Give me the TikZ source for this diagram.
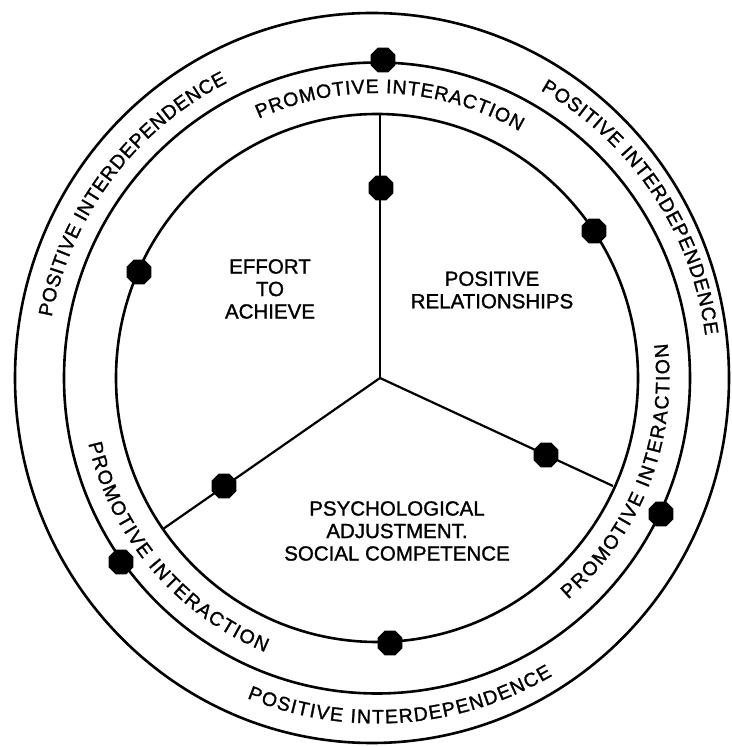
\documentclass[tikz,border=0pt]{standalone}
\usepackage{fontspec}
\setmainfont[FakeBold=1.3]{Liberation Sans}
\newfontfamily\arcfont[FakeBold=1.3]{Liberation Sans}
\usetikzlibrary{decorations.text,shapes.geometric}
\begin{document}
\begin{tikzpicture}[x=1pt,y=1pt,
  ring/.style={line width=2.6pt},
  spoke/.style={line width=2.2pt},
  blob/.style={regular polygon, regular polygon sides=8, minimum size=27pt, inner sep=0pt, fill=black, draw=none},
  lab/.style={align=center, font=\fontsize{20.5}{22.5}\selectfont, inner sep=0pt},
  arctext/.style={decorate, decoration={text along path, text align={fit to path}, text={|\arcfont\fontsize{19.5}{19.5}\selectfont|#1}}}
]
\useasboundingbox (0,0) rectangle (731,747);
\begin{scope}[shift={(377,369)}]
  % rings
  \draw[ring] (0,0) ellipse[x radius=261, y radius=264];
  \draw[ring] (0,0) ellipse[x radius=313, y radius=315.5];
  \draw[ring] (-5,0) ellipse[x radius=357, y radius=365];
  % spokes
  \coordinate (hub) at (3,0);
  \coordinate (eTop) at (3,264);
  \coordinate (eRight) at (236,-108);
  \coordinate (eLeft) at (-214,-151);
  \draw[spoke] (hub) -- (eTop);
  \draw[spoke] (hub) -- (eRight);
  \draw[spoke] (hub) -- (eLeft);
  % blobs
  \node[blob] (bTopMid) at (6,318) {};
  \node[blob] (bSpokeTop) at (4,190) {};
  \node[blob] (bInUR) at (217,147) {};
  \node[blob] (bInUL) at (-238,106) {};
  \node[blob] (bSpokeR) at (169,-77) {};
  \node[blob] (bSpokeL) at (-153,-108) {};
  \node[blob] (bMidR) at (284,-136) {};
  \node[blob] (bMidL) at (-256,-184) {};
  \node[blob] (bInB) at (13,-265) {};
  % interior labels
  \node[lab] (effort) at (-107,89) {EFFORT\\TO\\ACHIEVE};
  \node[lab] (relat) at (115,88) {POSITIVE\\RELATIONSHIPS};
  \node[lab] (psych) at (20,-153) {PSYCHOLOGICAL\\ADJUSTMENT.\\SOCIAL COMPETENCE};
  % curved labels: promotive interaction
  \path[arctext={PROMOTIVE INTERACTION}] (114.5:285) arc[start angle=114.5, end angle=60, radius=285];
  \path[arctext={PROMOTIVE INTERACTION}] (-49.2:292.5) arc[start angle=-49.2, end angle=6.8, radius=292.5];
  \path[arctext={PROMOTIVE INTERACTION}] (192.8:296) arc[start angle=192.8, end angle=247.8, radius=296];
  % curved labels: positive interdependence
  \path[arctext={POSITIVE INTERDEPENDENCE}] (169.4:331) arc[start angle=169.4, end angle=116.9, radius=331];
  \path[arctext={POSITIVE INTERDEPENDENCE}] (60.4:331) arc[start angle=60.4, end angle=7.4, radius=331];
  \path[arctext={POSITIVE INTERDEPENDENCE}] (247.9:345.5) arc[start angle=247.9, end angle=300.5, radius=345.5];
\end{scope}
\end{tikzpicture}
\end{document}
